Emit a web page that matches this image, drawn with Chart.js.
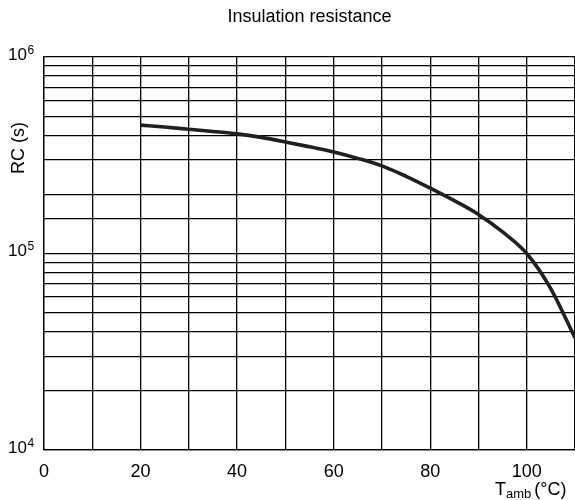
<!DOCTYPE html>
<html>
<head>
<meta charset="utf-8">
<script src="https://cdn.jsdelivr.net/npm/chart.js@4.4.1/dist/chart.umd.min.js"></script>
<style>
  html, body { margin: 0; padding: 0; background: #fff; overflow: hidden; }
  #wrap { width: 575px; height: 500px; position: relative; }
</style>
</head>
<body>
<div id="wrap"><canvas id="c"></canvas></div>
<script>
// Data
const temperatures = [20, 25, 30, 35, 40, 45, 50, 55, 60, 65, 70, 75, 80, 85, 90, 95, 100, 105, 110];
const rcValues = [450000, 440000, 428500, 417800, 406400, 389900, 369800, 349100, 328900, 304800, 279300, 247200, 215300, 185800, 158100, 128800, 100000, 66100, 37200];
const xTickLabels = [0, 20, 40, 60, 80, 100];
const yDecadeValues = [10000, 100000, 1000000];
const yDecadeExponents = ['4', '5', '6'];
const chartTitle = 'Insulation resistance';
const yAxisTitle = 'RC (s)';

const FONT = '"Liberation Sans", Arial, Helvetica, sans-serif';

const zeroPadding = (s) => {
  s.paddingLeft = 0; s.paddingRight = 0; s.paddingTop = 0; s.paddingBottom = 0;
};

const textPlugin = {
  id: 'textPlugin',
  afterDraw(chart) {
    const ctx = chart.ctx;
    const y = chart.scales.y;
    ctx.save();
    ctx.fillStyle = '#000';
    // y decade labels with superscripts
    yDecadeValues.forEach((v, i) => {
      const py = y.getPixelForValue(v);
      ctx.font = '17px ' + FONT;
      ctx.textAlign = 'left';
      ctx.textBaseline = 'alphabetic';
      ctx.fillText('10', 8, py + 2.7);
      const w = ctx.measureText('10').width;
      ctx.font = '12px ' + FONT;
      ctx.fillText(yDecadeExponents[i], 8 + w + 0.5, py - 3.5);
    });
    // y axis title
    ctx.save();
    ctx.translate(24, 148);
    ctx.rotate(-Math.PI / 2);
    ctx.font = '18px ' + FONT;
    ctx.textAlign = 'center';
    ctx.textBaseline = 'alphabetic';
    ctx.fillText(yAxisTitle, 0, 0);
    ctx.restore();
    // x axis title T_amb (°C)
    ctx.textAlign = 'left';
    ctx.textBaseline = 'alphabetic';
    let px = 495;
    ctx.font = '18px ' + FONT;
    ctx.fillText('T', px, 495);
    px += ctx.measureText('T').width;
    ctx.font = '13px ' + FONT;
    ctx.fillText('amb', px, 498);
    px += ctx.measureText('amb').width + 3;
    ctx.font = '18px ' + FONT;
    ctx.fillText('(°C)', px, 495);
    ctx.restore();
  }
};

new Chart(document.getElementById('c'), {
  type: 'line',
  data: {
    datasets: [{
      data: temperatures.map((t, i) => ({ x: t, y: rcValues[i] })),
      borderColor: '#231f20',
      borderWidth: 3.6,
      pointRadius: 0,
      fill: false,
      cubicInterpolationMode: 'monotone'
    }]
  },
  options: {
    responsive: true,
    maintainAspectRatio: false,
    animation: false,
    layout: { autoPadding: false, padding: { left: 44, right: 0, top: 0, bottom: 6 } },
    plugins: {
      legend: { display: false },
      tooltip: { enabled: false },
      title: {
        display: true,
        text: chartTitle,
        fullSize: false,
        color: '#000',
        font: { family: FONT, size: 18, weight: 'normal' },
        padding: { top: 6.2, bottom: 29.2 }
      }
    },
    scales: {
      x: {
        type: 'linear',
        min: 0,
        max: 110,
        afterFit: zeroPadding,
        ticks: {
          stepSize: 10,
          autoSkip: false,
          maxRotation: 0,
          padding: 11.2,
          color: '#000',
          font: { family: FONT, size: 18 },
          callback: (v) => xTickLabels.includes(v) ? String(v) : ''
        },
        grid: { color: '#000', lineWidth: 1.3, drawTicks: false },
        border: { color: '#000', width: 1.3 }
      },
      y: {
        type: 'logarithmic',
        min: 10000,
        max: 1000000,
        afterFit: zeroPadding,
        ticks: { display: false },
        grid: { color: '#000', lineWidth: 1.3, drawTicks: false },
        border: { color: '#000', width: 1.3 }
      }
    }
  },
  plugins: [textPlugin]
});
</script>
</body>
</html>
